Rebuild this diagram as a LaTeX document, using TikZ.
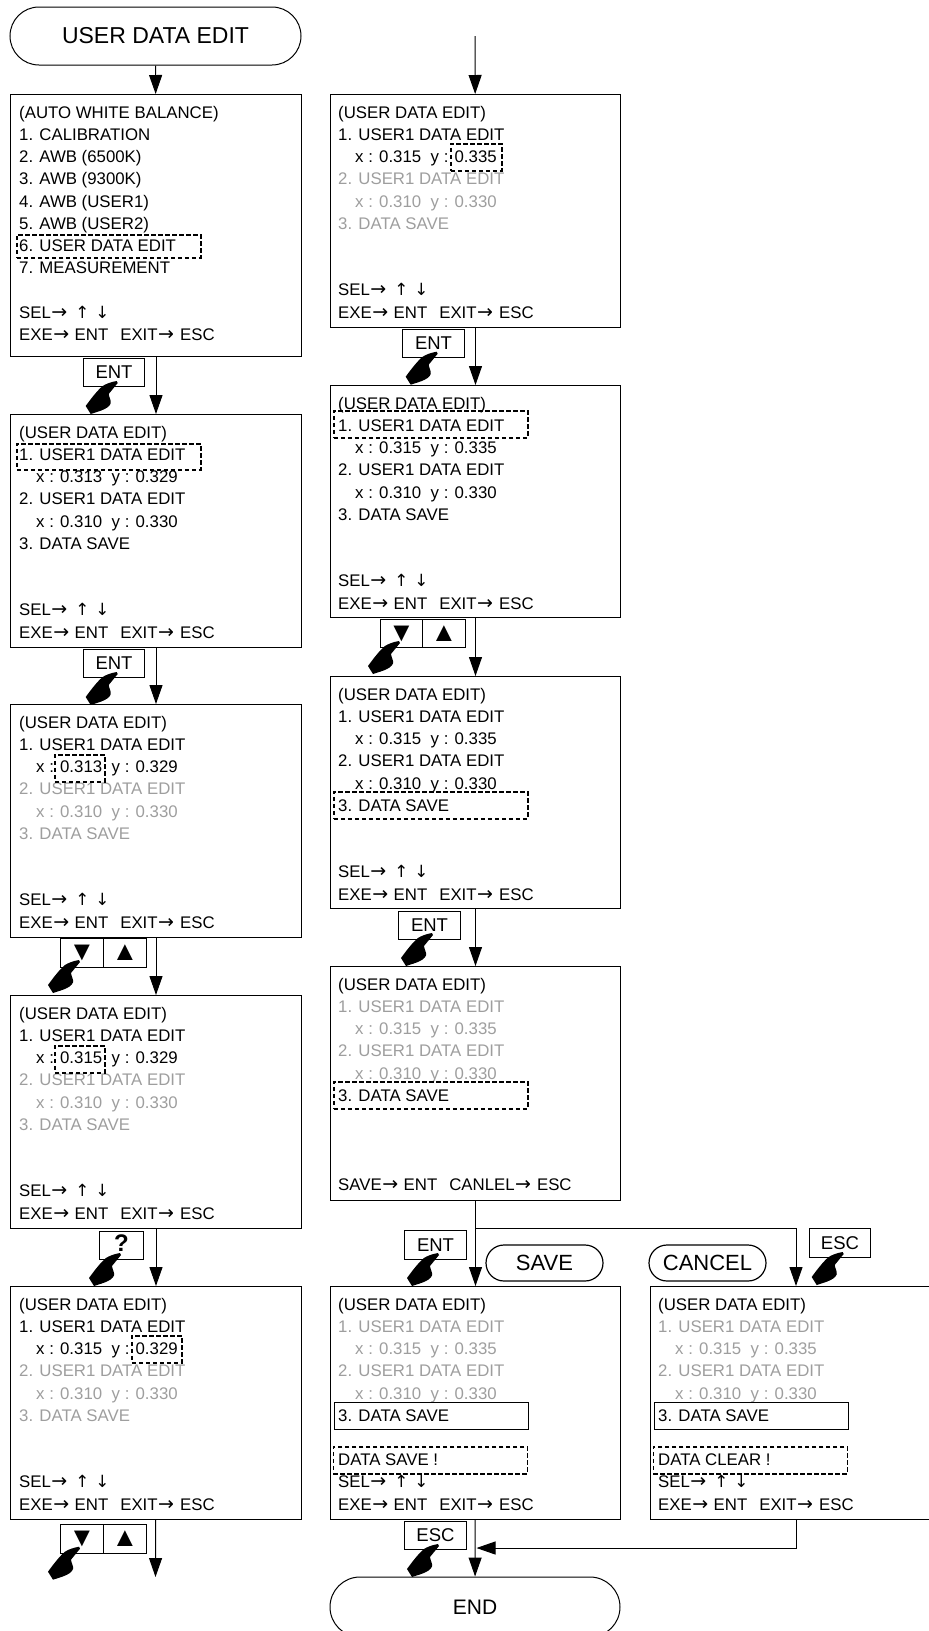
\documentclass[tikz,border=0pt]{standalone}
\usepackage{fontspec}
\setmainfont{Liberation Sans}
\newfontfamily\arrowfont{DejaVu Sans}
\usetikzlibrary{arrows.meta}

\definecolor{dimtext}{gray}{0.62}
\newcommand{\dimline}[1]{\textcolor{dimtext}{#1}}
\newcommand{\xyline}[2]{\hspace*{17pt}x : #1\hspace{9.5pt}y : #2}
\newcommand{\toglyph}{{\arrowfont\fontsize{19}{22.2}\selectfont\hspace{0.5pt}→}}
\newcommand{\selline}{SEL\toglyph\hspace{8pt}{\arrowfont ↑}\hspace{6pt}{\arrowfont ↓}}
\newcommand{\exeline}{EXE\toglyph\hspace{5.5pt}ENT\hspace{12pt}EXIT\toglyph\hspace{6pt}ESC}
\newcommand{\downglyph}{\fontsize{27}{27}\selectfont ▼}
\newcommand{\upglyph}{\fontsize{27}{27}\selectfont ▲}

\tikzset{
  flowline/.style={line width=1pt,-{Triangle[length=19pt,width=13pt]}},
  screenbox/.style={draw,line width=1pt,anchor=north west,minimum width=291pt,inner sep=0pt},
  screentext/.style={anchor=north west,inner sep=0pt,align=left,font=\fontsize{16.8}{22.2}\selectfont},
  hilite/.style={draw,line width=1.9pt,dash pattern=on 4.5pt off 2.5pt,anchor=north west,inner sep=0pt},
  solidmark/.style={draw,line width=1pt,anchor=north west,inner sep=0pt},
  keybox/.style={draw,line width=1pt,anchor=north west,inner sep=0pt,font=\fontsize{18.5}{18.5}\selectfont},
  terminal/.style={draw,line width=1pt,rounded corners=29pt,minimum width=291pt,minimum height=58pt,inner sep=0pt,font=\fontsize{23}{23}\selectfont},
  modebox/.style={draw,line width=1.2pt,rounded corners=18pt,minimum width=117pt,minimum height=36pt,inner sep=0pt,font=\fontsize{22}{22}\selectfont},
  handicon/.pic={
    \fill (0,0) .. controls (-6,1) and (-11,3) .. (-14,5) .. controls (-19,9) and (-26,18) .. (-31,25)
      -- (-26,33) .. controls (-20,31) and (-16,30) .. (-12,28) .. controls (-8,26) and (-5,23) .. (-6,20)
      .. controls (-7,16) and (-8,15) .. (-8,13) -- (1,2) -- cycle;
  }
}

\begin{document}
\begin{tikzpicture}[x=1pt,y=-1pt]
  \useasboundingbox (0,0) rectangle (929,1631);
  \clip (0,0) rectangle (929,1631);

  % left column
  \node[terminal] (start) at (155.5,36) {USER DATA EDIT};
  \node[screenbox,minimum height=262pt] (menu) at (10,94) {};
  \node[screentext] (menutext) at (19,106) {(AUTO WHITE BALANCE)\\1. CALIBRATION\\2. AWB (6500K)\\3. AWB (9300K)\\4. AWB (USER1)\\5. AWB (USER2)\\6. USER DATA EDIT\\7. MEASUREMENT\\[22.2pt]\selline\\\exeline};
  \node[hilite,minimum width=184pt,minimum height=23pt] (menumark) at (16,234) {};

  \node[screenbox,minimum height=233pt] (la) at (10,414) {};
  \node[screentext] (latext) at (19,426) {(USER DATA EDIT)\\1. USER1 DATA EDIT\\\xyline{0.313}{0.329}\\2. USER1 DATA EDIT\\\xyline{0.310}{0.330}\\3. DATA SAVE\\[44.4pt]\selline\\\exeline};
  \node[hilite,minimum width=184pt,minimum height=26pt] (lamark) at (16,443) {};

  \node[screenbox,minimum height=233pt] (lb) at (10,704) {};
  \node[screentext] (lbtext) at (19,716) {(USER DATA EDIT)\\1. USER1 DATA EDIT\\\xyline{0.313}{0.329}\\\dimline{2. USER1 DATA EDIT}\\\dimline{\xyline{0.310}{0.330}}\\\dimline{3. DATA SAVE}\\[44.4pt]\selline\\\exeline};
  \node[hilite,minimum width=50pt,minimum height=27pt] (lbmark) at (54,754) {};

  \node[screenbox,minimum height=233pt] (lc) at (10,995) {};
  \node[screentext] (lctext) at (19,1007) {(USER DATA EDIT)\\1. USER1 DATA EDIT\\\xyline{0.315}{0.329}\\\dimline{2. USER1 DATA EDIT}\\\dimline{\xyline{0.310}{0.330}}\\\dimline{3. DATA SAVE}\\[44.4pt]\selline\\\exeline};
  \node[hilite,minimum width=50pt,minimum height=27pt] (lcmark) at (54,1045) {};

  \node[screenbox,minimum height=233pt] (ld) at (10,1286) {};
  \node[screentext] (ldtext) at (19,1298) {(USER DATA EDIT)\\1. USER1 DATA EDIT\\\xyline{0.315}{0.329}\\\dimline{2. USER1 DATA EDIT}\\\dimline{\xyline{0.310}{0.330}}\\\dimline{3. DATA SAVE}\\[44.4pt]\selline\\\exeline};
  \node[hilite,minimum width=50pt,minimum height=27pt] (ldmark) at (131,1335) {};
  \coordinate (leftend) at (155.5,1577);

  % left keys
  \node[keybox,minimum width=61pt,minimum height=28pt] (entone) at (83,358) {ENT};
  \node[keybox,minimum width=61pt,minimum height=28pt] (enttwo) at (83,649) {ENT};
  \node[keybox,minimum width=43pt,minimum height=29pt] (downa) at (60,938) {\downglyph};
  \node[keybox,minimum width=43pt,minimum height=29pt] (upa) at (103,938) {\upglyph};
  \node[keybox,minimum width=44pt,minimum height=28pt,font=\bfseries\fontsize{24}{24}\selectfont] (qkey) at (99,1231) {\raisebox{5pt}{?}};
  \node[keybox,minimum width=43pt,minimum height=29pt] (downb) at (60,1524) {\downglyph};
  \node[keybox,minimum width=43pt,minimum height=29pt] (upb) at (103,1524) {\upglyph};
  \pic at (116.7,381) {handicon};
  \pic at (116.7,672) {handicon};
  \pic at (79,960) {handicon};
  \pic at (120,1253) {handicon};
  \pic at (79,1546.7) {handicon};

  \draw[flowline] (start) -- (menu);
  \draw[flowline] (menu) -- (la);
  \draw[flowline] (la) -- (lb);
  \draw[flowline] (lb) -- (lc);
  \draw[flowline] (lc) -- (ld);
  \draw[flowline] (ld) -- (leftend);

  % middle column
  \coordinate (midstart) at (475,36);
  \node[screenbox,minimum width=290pt,minimum height=233pt] (ma) at (330,94) {};
  \node[screentext] (matext) at (338,106) {(USER DATA EDIT)\\1. USER1 DATA EDIT\\\xyline{0.315}{0.335}\\\dimline{2. USER1 DATA EDIT}\\\dimline{\xyline{0.310}{0.330}}\\\dimline{3. DATA SAVE}\\[44.4pt]\selline\\\exeline};
  \node[hilite,minimum width=51pt,minimum height=27pt] (mamark) at (450,143) {};

  \node[screenbox,minimum width=290pt,minimum height=232pt] (mb) at (330,385) {};
  \node[screentext] (mbtext) at (338,397) {(USER DATA EDIT)\\1. USER1 DATA EDIT\\\xyline{0.315}{0.335}\\2. USER1 DATA EDIT\\\xyline{0.310}{0.330}\\3. DATA SAVE\\[44.4pt]\selline\\\exeline};
  \node[hilite,minimum width=194pt,minimum height=27pt] (mbmark) at (333,410) {};

  \node[screenbox,minimum width=290pt,minimum height=232pt] (mc) at (330,676) {};
  \node[screentext] (mctext) at (338,688) {(USER DATA EDIT)\\1. USER1 DATA EDIT\\\xyline{0.315}{0.335}\\2. USER1 DATA EDIT\\\xyline{0.310}{0.330}\\3. DATA SAVE\\[44.4pt]\selline\\\exeline};
  \node[hilite,minimum width=194pt,minimum height=27pt] (mcmark) at (333,791) {};

  \node[screenbox,minimum width=290pt,minimum height=234pt] (md) at (330,966) {};
  \node[screentext] (mdtext) at (338,978) {(USER DATA EDIT)\\\dimline{1. USER1 DATA EDIT}\\\dimline{\xyline{0.315}{0.335}}\\\dimline{2. USER1 DATA EDIT}\\\dimline{\xyline{0.310}{0.330}}\\3. DATA SAVE\\[66.6pt]SAVE\toglyph\hspace{5.5pt}ENT\hspace{12pt}CANLEL\toglyph\hspace{6pt}ESC};
  \node[hilite,minimum width=194pt,minimum height=27pt] (mdmark) at (333,1081) {};

  \node[screenbox,minimum width=290pt,minimum height=233pt] (me) at (330,1286) {};
  \node[screentext] (metext) at (338,1298) {(USER DATA EDIT)\\\dimline{1. USER1 DATA EDIT}\\\dimline{\xyline{0.315}{0.335}}\\\dimline{2. USER1 DATA EDIT}\\\dimline{\xyline{0.310}{0.330}}\\3. DATA SAVE\\[22.2pt]DATA SAVE !\\\selline\\\exeline};
  \node[solidmark,minimum width=194pt,minimum height=27pt] (mesolid) at (334,1402) {};
  \node[hilite,minimum width=194pt,minimum height=27pt] (memark) at (332.5,1446) {};

  % middle keys
  \node[keybox,minimum width=62pt,minimum height=28pt] (entthree) at (402,329) {ENT};
  \node[keybox,minimum width=42pt,minimum height=28pt] (downc) at (380,619) {\downglyph};
  \node[keybox,minimum width=43pt,minimum height=28pt] (upc) at (422,619) {\upglyph};
  \node[keybox,minimum width=62pt,minimum height=28pt] (entfour) at (398,911) {ENT};
  \node[keybox,minimum width=62pt,minimum height=29pt] (entfive) at (404,1230) {ENT};
  \node[keybox,minimum width=62pt,minimum height=28pt] (escone) at (404,1521) {ESC};
  \pic at (436.7,351.7) {handicon};
  \pic at (399,641) {handicon};
  \pic at (432,933) {handicon};
  \pic at (438,1253) {handicon};
  \pic at (438,1544) {handicon};

  \node[modebox] (savemode) at (544.5,1263) {SAVE};
  \node[modebox] (cancelmode) at (707.5,1263) {CANCEL};

  % right column
  \node[screenbox,minimum height=233pt] (ra) at (650,1286) {};
  \node[screentext] (ratext) at (658,1298) {(USER DATA EDIT)\\\dimline{1. USER1 DATA EDIT}\\\dimline{\xyline{0.315}{0.335}}\\\dimline{2. USER1 DATA EDIT}\\\dimline{\xyline{0.310}{0.330}}\\3. DATA SAVE\\[22.2pt]DATA CLEAR !\\\selline\\\exeline};
  \node[solidmark,minimum width=194pt,minimum height=27pt] (rasolid) at (654,1402) {};
  \node[hilite,minimum width=194pt,minimum height=27pt] (ramark) at (652.5,1446) {};
  \node[keybox,minimum width=61pt,minimum height=29pt] (esctwo) at (809,1228) {ESC};
  \pic at (842.7,1252) {handicon};

  \node[terminal,rounded corners=30pt,minimum width=290pt,minimum height=60pt,font=\fontsize{21}{21}\selectfont] (finish) at (475,1607) {END};

  \draw[flowline] (midstart) -- (ma);
  \draw[flowline] (ma) -- (mb);
  \draw[flowline] (mb) -- (mc);
  \draw[flowline] (mc) -- (md);
  \draw[flowline] (md) -- (me);
  \draw[flowline] (me) -- (finish);
  \coordinate (splitpt) at (475,1228);
  \coordinate (mergept) at (476.5,1548);
  \draw[flowline] (splitpt) -| (ra);
  \draw[flowline] (ra) |- (mergept);
\end{tikzpicture}
\end{document}
